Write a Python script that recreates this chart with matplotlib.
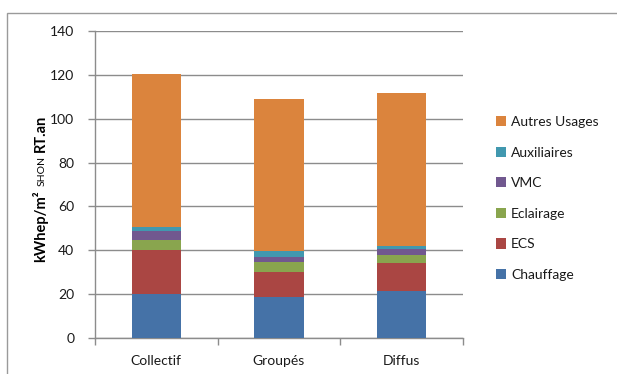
import matplotlib
matplotlib.use("Agg")
import matplotlib.pyplot as plt
from matplotlib.patches import Rectangle
import numpy as np

# ── Data ────────────────────────────────────────────────────────────────
categories = ["Collectif", "Groupés", "Diffus"]
usages = ["Chauffage", "ECS", "Eclairage", "VMC", "Auxiliaires", "Autres Usages"]
chauffage = [20.1, 18.6, 21.4]
ecs = [20.0, 11.7, 12.8]
eclairage = [4.6, 4.5, 3.5]
vmc = [4.1, 2.3, 2.9]
auxiliaires = [1.8, 2.4, 1.4]
autres = [69.9, 69.4, 69.8]
series = [chauffage, ecs, eclairage, vmc, auxiliaires, autres]
colors = ["#4572A7", "#AA4643", "#89A54E", "#71588F", "#4198AF", "#DB843D"]

W, H = 617, 374
FONT = "Lato"
TXT = "#1a1a1a"
GRID = "#8c8c8c"

plt.rcParams["font.family"] = [FONT, "DejaVu Sans"]

fig = plt.figure(figsize=(W / 100, H / 100), dpi=100)
fig.patch.set_facecolor("white")

# outer chart frame (cut off at right/bottom in the reference)
fig.patches.append(Rectangle((7 / W, -0.05), 1.0, 1 - 13 / H + 0.05,
                             transform=fig.transFigure, fill=False,
                             edgecolor="#9a9a9a", linewidth=1.0))

ax = fig.add_axes([95 / W, 1 - 338 / H, (463 - 95) / W, (338 - 31) / H])

x = np.arange(len(categories))
bottom = np.zeros(len(categories))
bars = []
for name, vals, col in zip(usages, series, colors):
    b = ax.bar(x, vals, width=0.4, bottom=bottom, color=col, label=name,
               zorder=3, linewidth=0)
    bars.append(b)
    bottom += np.array(vals)

ax.set_xlim(-0.5, len(categories) - 0.5)
ax.set_ylim(0, 140)
ax.set_yticks(np.arange(0, 141, 20))
ax.yaxis.grid(True, color=GRID, linewidth=1.0, zorder=0)
ax.set_axisbelow(True)
for s in ["top", "right"]:
    ax.spines[s].set_visible(False)
for s in ["left", "bottom"]:
    ax.spines[s].set_color(GRID)
    ax.spines[s].set_linewidth(1.0)

# x ticks on category boundaries, labels at centers
ax.set_xticks(np.arange(-0.5, len(categories), 1.0))
ax.set_xticklabels([])
ax.set_xticks(x, minor=True)
ax.set_xticklabels(categories, minor=True, fontsize=10, color=TXT)
ax.tick_params(axis="x", which="major", length=5, color=GRID, width=1)
ax.tick_params(axis="x", which="minor", length=0, pad=12)
ax.tick_params(axis="y", length=5, color=GRID, width=1, pad=10,
               labelsize=10, labelcolor=TXT)

# legend (reversed order, Autres Usages on top)
handles = bars[::-1]
labels = usages[::-1]
fig.legend(handles, labels, loc="upper left",
           bbox_to_anchor=(489 / W, 1 - 109 / H), frameon=False,
           fontsize=10, handlelength=0.75, handleheight=0.75,
           handletextpad=0.35, labelspacing=1.34, borderpad=0,
           labelcolor=TXT)

# y label: bold "kWhep/m²", small "SHON", bold "RT.an"
fig.canvas.draw()
r = fig.canvas.get_renderer()
pieces = [("kWhep/m²", 10.5, "bold"), ("SHON", 7.5, "normal"),
          ("RT.an", 10.5, "bold")]
ypos = 262
for txt, fs, fw in pieces:
    t = fig.text(45 / W, 1 - ypos / H, txt, rotation=90,
                 rotation_mode="anchor", ha="left", va="baseline",
                 fontsize=fs, fontweight=fw, color="black")
    ext = t.get_window_extent(r)
    ypos -= ext.height + 4

fig.savefig("out.png", dpi=100, facecolor="white")
